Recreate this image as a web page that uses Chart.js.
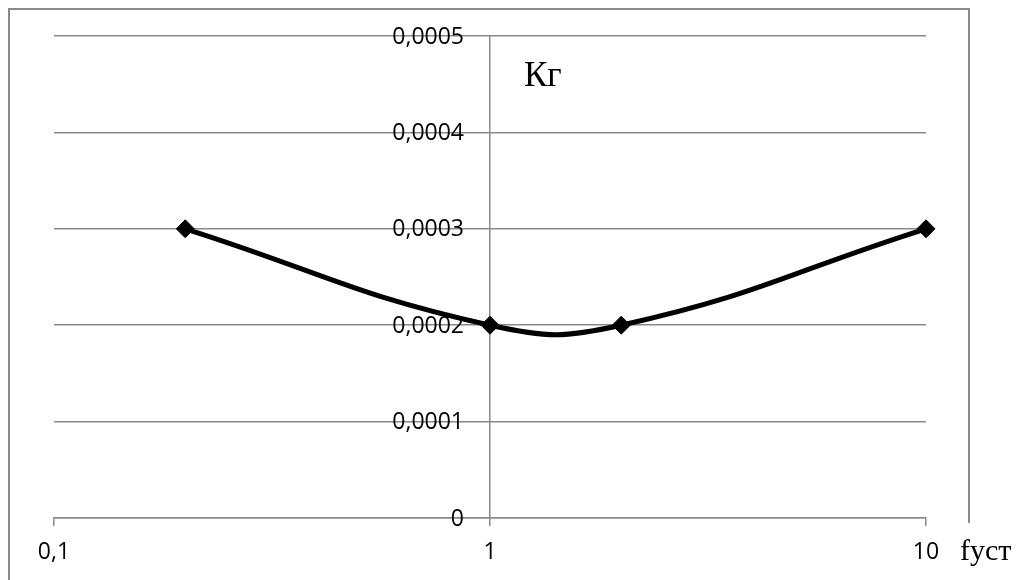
<!DOCTYPE html>
<html>
<head>
<meta charset="utf-8">
<script src="https://cdn.jsdelivr.net/npm/chart.js@4/dist/chart.umd.min.js"></script>
<style>
  html, body { margin: 0; padding: 0; background: #fff; }
</style>
</head>
<body>
<canvas id="kgChart" width="1024" height="580"></canvas>
<script>
const freqs = [0.2, 1, 2, 10];
const kgValues = [0.0003, 0.0002, 0.0002, 0.0003];
const xTicks = [0.1, 1, 10];
const xTickLabels = ['0,1', '1', '10'];
const yTickLabels = ['0', '0,0001', '0,0002', '0,0003', '0,0004', '0,0005'];
const yTitle = 'Кг';
const xTitle = 'fуст';

const gridGray = '#898989';
const tickFont = '23px "Open Sans"';

// frame, y tick labels and axis captions drawn around the chart
const decor = {
    id: 'decor',
    beforeDraw(chart) {
        const c = chart.ctx;
        c.save();
        c.fillStyle = '#fff';
        c.fillRect(0, 0, chart.width, chart.height);
        c.strokeStyle = gridGray;
        c.lineWidth = 2;
        c.strokeRect(9, 9, 960, 620);
        c.restore();
    },
    afterDatasetsDraw(chart) {
        const c = chart.ctx;
        const ys = chart.scales.y;
        const axisX = chart.scales.x.getPixelForValue(1);
        c.save();
        c.fillStyle = '#000';
        c.font = tickFont;
        c.textAlign = 'right';
        c.textBaseline = 'middle';
        ys.ticks.forEach((t, i) => {
            c.fillText(yTickLabels[i], axisX - 26, ys.getPixelForValue(t.value) + 1);
        });
        c.restore();
    },
    afterDraw(chart) {
        const c = chart.ctx;
        c.save();
        c.fillStyle = '#fff';
        c.fillRect(950, 523, 74, 57);
        c.fillStyle = '#000';
        c.textBaseline = 'alphabetic';
        c.textAlign = 'left';
        c.font = '30px "Liberation Serif"';
        c.fillText(xTitle, 960, 560);
        c.font = '35px "Liberation Serif"';
        c.fillText(yTitle, 524, 86);
        c.restore();
    }
};

const ctx = document.getElementById('kgChart').getContext('2d');
const chart = new Chart(ctx, {
    type: 'line',
    data: {
        datasets: [{
            data: freqs.map((f, i) => ({ x: f, y: kgValues[i] })),
            borderColor: '#000',
            borderWidth: 5,
            tension: 0.45,
            pointStyle: 'rectRot',
            pointRadius: 9,
            pointBackgroundColor: '#000',
            pointBorderColor: '#000',
            pointBorderWidth: 1,
            fill: false,
            clip: false
        }]
    },
    options: {
        responsive: false,
        devicePixelRatio: 1,
        animation: false,
        layout: { padding: { left: 54, right: 98, top: 36, bottom: 0 } },
        plugins: {
            legend: { display: false },
            tooltip: { enabled: false }
        },
        scales: {
            x: {
                type: 'logarithmic',
                position: 'bottom',
                min: 0.1,
                max: 10,
                afterBuildTicks: s => { s.ticks = xTicks.map(v => ({ value: v })); },
                afterFit: s => { s.height = 62; },
                grid: {
                    drawOnChartArea: false,
                    drawTicks: true,
                    tickLength: 8,
                    color: gridGray,
                    lineWidth: 1.5
                },
                border: { display: true, color: gridGray, width: 1.5 },
                ticks: {
                    autoSkip: false,
                    maxRotation: 0,
                    padding: 13,
                    color: '#000',
                    font: { family: 'Open Sans', size: 23 },
                    callback: (v, i) => xTickLabels[i]
                }
            },
            y: {
                position: { x: 1 },
                min: 0,
                max: 0.0005,
                ticks: {
                    stepSize: 0.0001,
                    display: false
                },
                grid: {
                    drawTicks: false,
                    color: gridGray,
                    lineWidth: 1.5
                },
                border: { display: true, color: gridGray, width: 1.5 }
            }
        }
    },
    plugins: [decor]
});
</script>
</body>
</html>
